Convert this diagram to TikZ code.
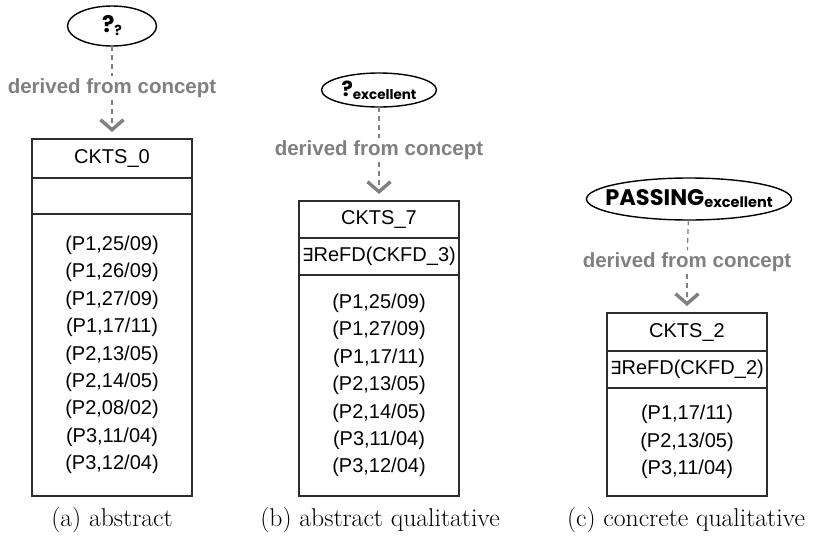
\documentclass[tikz,border=0pt]{standalone}
\usepackage{fontspec}
\usetikzlibrary{shapes.geometric,arrows.meta}
\newfontfamily\boxfont{Liberation Sans}
\newfontfamily\popfont{Poppins}
\newfontfamily\djvfont{DejaVu Sans}
\definecolor{dgray}{RGB}{128,128,128}
\definecolor{lineg}{RGB}{45,45,45}
\newcommand{\exs}{{\djvfont\fontsize{18}{20}\selectfont ∃}}
\begin{document}
\begin{tikzpicture}[x=1pt,y=-1pt,
  ell/.style={ellipse, draw=black, line width=1.4pt, inner sep=0pt, outer sep=0pt},
  row/.style={rectangle, draw=lineg, line width=1.2pt, minimum width=160pt, inner sep=0pt, outer sep=0pt,
    font=\boxfont\fontsize{20}{27.4}\selectfont, align=center, anchor=north},
  lbl/.style={font=\boxfont\bfseries\fontsize{20.5}{24}\selectfont, text=dgray, inner sep=2pt},
  conn/.style={draw=dgray, line width=1.2pt, dash pattern=on 5pt off 4pt},
  chev/.style={-{Straight Barb[length=10pt,width=23pt,line width=3.4pt]}, shorten >=7pt},
  captxt/.style={font=\fontsize{25.7}{30}\selectfont, anchor=base, inner sep=0pt}
]
\useasboundingbox (0,0) rectangle (825,544);

% ---------- (a) ----------
\node[ell, minimum width=89pt, minimum height=40pt] (ea) at (112,26)
  {\makebox[0pt]{\popfont\bfseries\fontsize{23}{23}\selectfont ?\raisebox{-3pt}{\fontsize{14}{14}\selectfont ?}}};
\node[lbl] (la) at (112,88) {derived from concept};
\node[row, minimum height=39pt] (ta) at (112,139) {CKTS\_0};
\node[row, minimum height=36pt] (sa) at (ta.south) {};
\node[row, minimum height=282pt] (pa) at (sa.south)
  {(P1,25/09)\\(P1,26/09)\\(P1,27/09)\\(P1,17/11)\\(P2,13/05)\\(P2,14/05)\\(P2,08/02)\\(P3,11/04)\\(P3,12/04)};
\draw[conn] (ea) -- (la);
\draw[conn,chev] (la) -- (ta);
\node[captxt] (capa) at (112,526) {(a) abstract};

% ---------- (b) ----------
\node[ell, minimum width=115pt, minimum height=34pt] (eb) at (379,90)
  {\makebox[0pt]{\popfont\bfseries\fontsize{21}{21}\selectfont ?\raisebox{-3pt}{\fontsize{13.5}{14}\selectfont excellent}}};
\node[lbl] (lb) at (379,150) {derived from concept};
\node[row, minimum height=37pt] (tb) at (379,201) {CKTS\_7};
\node[row, minimum height=37pt] (sb) at (tb.south) {\exs ReFD(CKFD\_3)};
\node[row, minimum height=221pt] (pb) at (sb.south)
  {(P1,25/09)\\(P1,27/09)\\(P1,17/11)\\(P2,13/05)\\(P2,14/05)\\(P3,11/04)\\(P3,12/04)};
\draw[conn] (eb) -- (lb);
\draw[conn,chev] (lb) -- (tb);
\node[captxt] (capb) at (380,526) {(b) abstract qualitative};

% ---------- (c) ----------
\node[ell, minimum width=205pt, minimum height=42pt] (ec) at (689,199)
  {\makebox[0pt]{\popfont\bfseries\fontsize{22.5}{23}\selectfont PASSING\raisebox{-2pt}{\fontsize{14.5}{15}\selectfont excellent}}};
\node[lbl] (lc) at (687,262) {derived from concept};
\node[row, minimum height=38pt] (tc) at (687,313) {CKTS\_2};
\node[row, minimum height=37pt] (sc) at (tc.south) {\exs ReFD(CKFD\_2)};
\node[row, minimum height=108pt] (pc) at (sc.south)
  {(P1,17/11)\\(P2,13/05)\\(P3,11/04)};
\draw[conn] (ec) -- (lc);
\draw[conn,chev] (lc) -- (tc);
\node[captxt] (capc) at (686,526) {(c) concrete qualitative};
\end{tikzpicture}
\end{document}
